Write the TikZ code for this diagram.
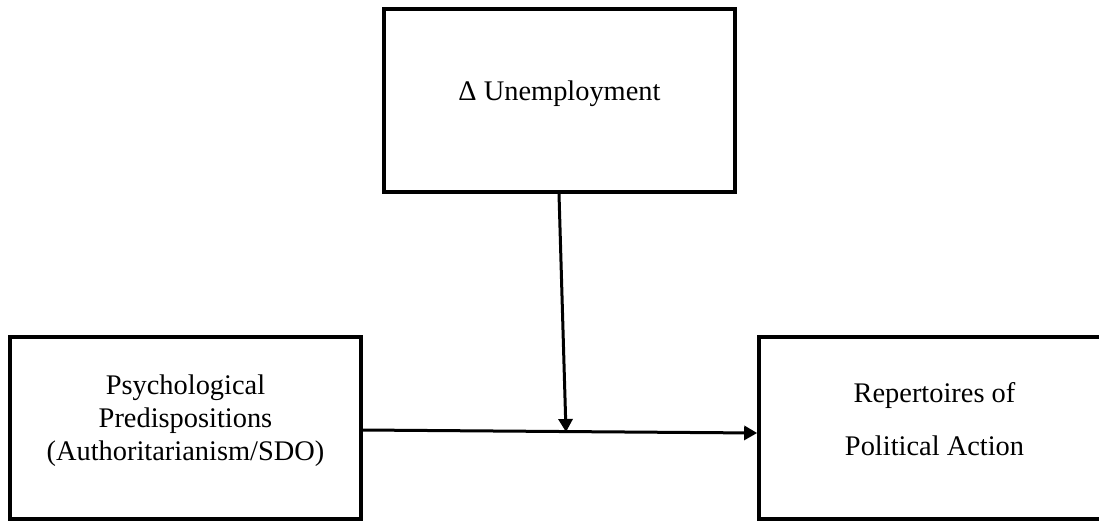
\documentclass[tikz,border=0pt]{standalone}
\usepackage{fontspec}
\setmainfont{Liberation Serif}
\usetikzlibrary{arrows.meta}

\begin{document}
\begin{tikzpicture}[x=0.5pt,y=-0.5pt]
	\tikzstyle{box}=[draw,line width=1.8pt,minimum width=175.5pt,minimum height=91pt,inner sep=0pt];
	\tikzstyle{txt}=[align=center,inner sep=0pt,font=\fontsize{14.2}{16.5}\selectfont];
	\tikzstyle{arr}=[line width=1.5pt,-{Triangle[length=6.5pt,width=7pt]}];

	\clip (0,0) rectangle (1099,521);
	\node[box,minimum height=91.5pt] (unemp) at (559.5,100.5) {};
	\node[txt] (unemptxt) at ([yshift=3.6pt]unemp.center) {Δ Unemployment};
	\node[box] (pred) at (185.5,428) {};
	\node[txt] (predtxt) at ([yshift=3.5pt]pred.center) {Psychological\\Predispositions\\(Authoritarianism/SDO)};
	\node[box] (repert) at (934.5,428) {};
	\node[txt] (reperttxt) at ([yshift=4.5pt]repert.center) {Repertoires of\\[10pt]Political Action};

	\draw[arr] ([yshift=-1pt]pred.east) -- ([yshift=-2.5pt]repert.west);
	\coordinate (join) at (566,432);
	\draw[arr] ([xshift=-0.25pt]unemp.south) -- (join);
\end{tikzpicture}
\end{document}
